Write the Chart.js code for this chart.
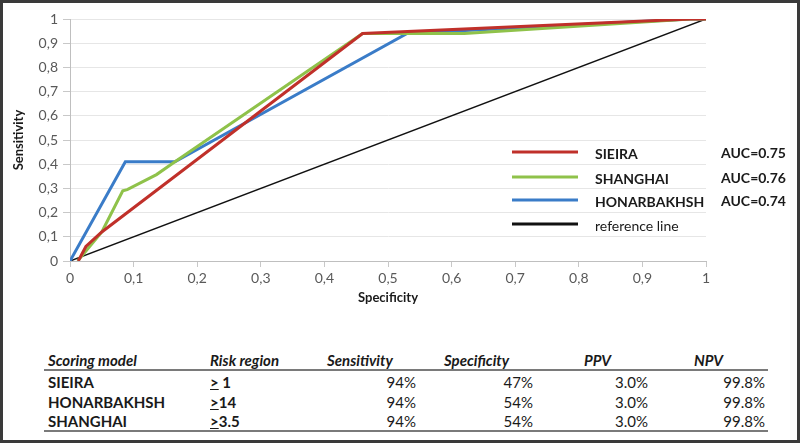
<!DOCTYPE html>
<html>
<head>
<meta charset="utf-8">
<script src="https://cdn.jsdelivr.net/npm/chart.js@4.4.0/dist/chart.umd.min.js"></script>
<style>
  html, body { margin: 0; padding: 0; background: #fff; }
  body { width: 800px; height: 443px; position: relative; overflow: hidden; font-family: Lato, "Open Sans", sans-serif; }
  #frame { position: absolute; left: 0; top: 0; width: 800px; height: 443px; box-sizing: border-box;
           border: 3px solid #3a3a3a; }
  #chartBox { position: absolute; left: 0; top: 0; width: 800px; height: 310px; }
  .cell { position: absolute; font-size: 15px; color: #1a1a1a; white-space: nowrap; line-height: 18px; }
  .hd { font-weight: bold; font-style: italic; }
  .nm { font-weight: bold; }
  .num { text-align: right; }
  .rule { position: absolute; left: 44px; width: 724px; height: 2px; background: #7a7a7a; }
</style>
</head>
<body>
<div id="frame"></div>
<div id="chartBox"><canvas id="RocChart" width="800" height="310"></canvas></div>
<div id="tableBox"></div>

<script>
// ROC curve points (x = specificity axis, y = sensitivity)
const sieiraX = [0.013, 0.025, 0.05, 0.46, 0.975, 1];
const sieiraY = [0, 0.06, 0.12, 0.94, 1, 1];

const shanghaiX = [0.012, 0.05, 0.083, 0.09, 0.136, 0.165, 0.46, 0.62, 0.975, 1];
const shanghaiY = [0, 0.12, 0.29, 0.295, 0.357, 0.41, 0.94, 0.94, 1, 1];

const honarX = [0, 0.087, 0.165, 0.53, 0.975, 1];
const honarY = [0, 0.41, 0.41, 0.94, 1, 1];

const refX = [0, 1];
const refY = [0, 1];

const seriesNames = ["SIEIRA", "SHANGHAI", "HONARBAKHSH", "reference line"];
const seriesColors = ["#C0302A", "#8FC24A", "#3A7CC8", "#111111"];
const aucLabels = ["AUC=0.75", "AUC=0.76", "AUC=0.74", ""];

// table below the chart
const tableHeaders = ["Scoring model", "Risk region", "Sensitivity", "Specificity", "PPV", "NPV"];
const tableModels = ["SIEIRA", "HONARBAKHSH", "SHANGHAI"];
const tableRisk = ["1", "14", "3.5"];
const tableSens = ["94%", "94%", "94%"];
const tableSpec = ["47%", "54%", "54%"];
const tablePpv = ["3.0%", "3.0%", "3.0%"];
const tableNpv = ["99.8%", "99.8%", "99.8%"];

function toPoints(xs, ys) {
  return xs.map((x, i) => ({ x: x, y: ys[i] }));
}

function commaTick(v) {
  const r = Math.round(v * 10) / 10;
  return String(r).replace(".", ",");
}

// legend drawn inside the plot area, like the original
const insideLegend = {
  id: "insideLegend",
  afterDraw(chart) {
    const ctx = chart.ctx;
    const rowsY = [152, 177, 200, 224];
    ctx.save();
    chart.data.datasets.forEach((ds, i) => {
      const y = rowsY[i];
      ctx.strokeStyle = ds.borderColor;
      ctx.lineWidth = 3;
      ctx.beginPath();
      ctx.moveTo(512, y);
      ctx.lineTo(578, y);
      ctx.stroke();
      ctx.fillStyle = "#1a1a1a";
      ctx.textBaseline = "middle";
      ctx.textAlign = "left";
      ctx.font = (i === 3 ? "" : "bold ") + "14px Lato";
      ctx.fillText(ds.label, 595, y + 2);
      if (aucLabels[i]) {
        ctx.font = "bold 14px Lato";
        ctx.fillText(aucLabels[i], 721, y + 1);
      }
    });
    ctx.restore();
  }
};

let rocChart = null;

function initRocChart() {
  const ctx = document.getElementById("RocChart");
  const xsList = [sieiraX, shanghaiX, honarX, refX];
  const ysList = [sieiraY, shanghaiY, honarY, refY];

  rocChart = new Chart(ctx, {
    type: "scatter",
    data: {
      datasets: seriesNames.map((name, i) => ({
        label: name,
        data: toPoints(xsList[i], ysList[i]),
        showLine: true,
        borderColor: seriesColors[i],
        backgroundColor: seriesColors[i],
        borderWidth: i === 3 ? 1.5 : 3,
        pointRadius: 0,
        tension: 0
      }))
    },
    options: {
      responsive: false,
      animation: false,
      layout: { padding: { left: 8, top: 19, right: 94, bottom: 0 } },
      plugins: {
        legend: { display: false },
        tooltip: { enabled: false }
      },
      scales: {
        x: {
          type: "linear",
          min: 0,
          max: 1,
          ticks: {
            stepSize: 0.1,
            color: "#595959",
            font: { family: "Lato", size: 14 },
            padding: 3,
            maxRotation: 0,
            callback: commaTick
          },
          grid: { drawOnChartArea: false, drawTicks: true, tickLength: 6, color: "#c8c8c8" },
          border: { display: true, color: "#bfbfbf" },
          title: {
            display: true,
            text: "Specificity",
            color: "#1a1a1a",
            font: { family: "Lato", size: 13, weight: "bold" },
            padding: { top: 2, bottom: 4 }
          },
          afterFit(scale) { scale.height = 49; }
        },
        y: {
          min: 0,
          max: 1,
          ticks: {
            stepSize: 0.1,
            color: "#595959",
            font: { family: "Lato", size: 14 },
            padding: 5,
            callback: commaTick
          },
          grid: { color: "#e6e6e6", tickColor: "#c8c8c8", tickLength: 7 },
          border: { display: true, color: "#bfbfbf" },
          title: {
            display: true,
            text: "Sensitivity",
            color: "#1a1a1a",
            font: { family: "Lato", size: 13, weight: "bold" },
            padding: { top: 3, bottom: 4 }
          },
          afterFit(scale) { scale.width = 62; }
        }
      }
    },
    plugins: [insideLegend]
  });
}

function buildTable() {
  const box = document.getElementById("tableBox");
  const headLeft = [48, 210, 327, 444, 584, 694];
  const valueRight = [416, 533, 648, 765];
  const rowY = [382, 402, 421];

  function addCell(text, cls, left, top, right) {
    const d = document.createElement("div");
    d.className = "cell " + cls;
    d.innerHTML = text;
    d.style.top = (top - 9) + "px";
    if (right !== undefined) {
      d.style.right = (800 - right) + "px";
    } else {
      d.style.left = left + "px";
    }
    box.appendChild(d);
  }

  tableHeaders.forEach((h, i) => addCell(h, "hd", headLeft[i], 360));

  const rule1 = document.createElement("div");
  rule1.className = "rule";
  rule1.style.top = "369px";
  box.appendChild(rule1);

  tableModels.forEach((m, r) => {
    const y = rowY[r];
    addCell(m, "nm", headLeft[0], y);
    const gap = r === 0 ? " " : "";
    addCell('<span style="text-decoration:underline">&gt;</span>' + gap + tableRisk[r], "nm", headLeft[1], y);
    addCell(tableSens[r], "num", 0, y, valueRight[0]);
    addCell(tableSpec[r], "num", 0, y, valueRight[1]);
    addCell(tablePpv[r], "num", 0, y, valueRight[2]);
    addCell(tableNpv[r], "num", 0, y, valueRight[3]);
  });

  const rule2 = document.createElement("div");
  rule2.className = "rule";
  rule2.style.top = "430px";
  box.appendChild(rule2);
}

document.addEventListener("DOMContentLoaded", () => {
  initRocChart();
  buildTable();
});
</script>
</body>
</html>
